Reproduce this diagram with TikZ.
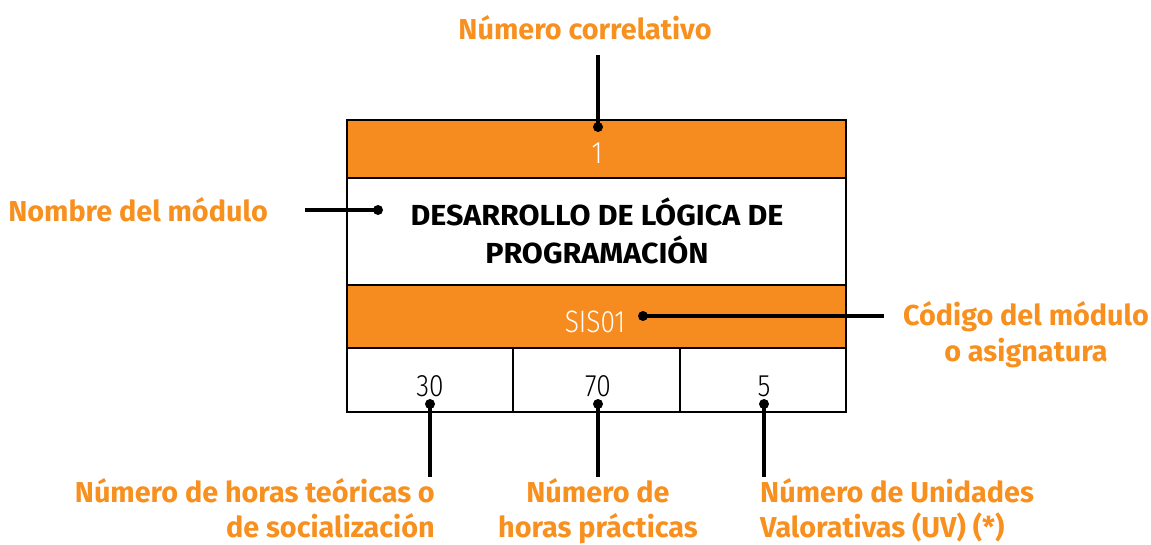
\documentclass[tikz,border=0pt]{standalone}
\usepackage{fontspec}
\setmainfont{Fira Sans}
\newfontfamily\labfont{Fira Sans}
\newfontfamily\titlefont[FakeStretch=1.05]{Fira Sans}
\IfFontExistsTF{Fira Sans Light}{\newfontfamily\numfont[FakeStretch=0.85]{Fira Sans Light}}{\newfontfamily\numfont[FakeStretch=0.85]{Fira Sans}}
\definecolor{orng}{HTML}{F68B1F}
\definecolor{labor}{HTML}{F7901E}
\tikzset{
  cellrow/.style={draw=black, line width=2pt, minimum width=499pt, inner sep=0pt, outer sep=0pt},
  orangerow/.style={cellrow, fill=orng},
  numcell/.style={draw=black, line width=2pt, minimum width=166.33pt, minimum height=64pt, inner sep=0pt, outer sep=0pt},
  conn/.style={line width=4pt, black},
  dotmark/.style={circle, fill=black, inner sep=0pt, minimum size=10pt},
  lab/.style={text=labor, font=\labfont\bfseries\fontsize{28.8}{36}\selectfont, inner sep=0pt},
  labb/.style={text=labor, font=\labfont\bfseries\fontsize{28.8}{35.5}\selectfont, inner sep=0pt},
  numtxt/.style={font=\numfont\fontsize{31}{36}\selectfont, inner sep=0pt},
}
\begin{document}
\begin{tikzpicture}[x=1pt,y=-1pt]
\useasboundingbox (0,0) rectangle (1151,544);
% table
\node[orangerow, minimum height=58pt] (r1) at (596.5,149) {};
\node[cellrow, fill=white, minimum height=107pt] (r2) at (596.5,231.5) {};
\node[orangerow, minimum height=63pt] (r3) at (596.5,316.5) {};
\node[numcell] (c1) at (430.17,380) {};
\node[numcell] (c2) at (596.5,380) {};
\node[numcell] (c3) at (762.83,380) {};
% cell texts
\node[numtxt, text=white] (t1) at (597,153) {1};
\node[font=\titlefont\bfseries\fontsize{29}{38}\selectfont, align=center, inner sep=0pt] (t2) at (597,231) {DESARROLLO DE LÓGICA DE\\PROGRAMACIÓN};
\node[numtxt, text=white] (t3) at (595,322) {SIS01};
\node[numtxt] (t4) at (430,386) {30};
\node[numtxt] (t5) at (598,386) {70};
\node[numtxt] (t6) at (764,386) {5};
% labels
\node[lab] (l1) at (585,28) {Número correlativo};
\node[lab, anchor=east] (l2) at (268,210) {Nombre del módulo};
\node[lab, align=center] (l3) at (1026,335) {Código del módulo\\o asignatura};
\node[labb, align=right, anchor=north east] (l4) at (435,478) {Número de horas teóricas o\\de socialización};
\node[labb, align=center, anchor=north] (l5) at (598,478) {Número de\\horas prácticas};
\node[labb, align=left, anchor=north west] (l6) at (760,478) {Número de Unidades\\Valorativas (UV) (*)};
% connector points
\node[dotmark] (d1) at (598,127) {};
\node[dotmark] (d2) at (378,210) {};
\node[dotmark] (d3) at (643,316) {};
\node[dotmark] (d4) at (430,404) {};
\node[dotmark] (d5) at (598,404) {};
\node[dotmark] (d6) at (764,404) {};
\coordinate (e1) at (598,55);
\coordinate (e2) at (305,210);
\coordinate (e3) at (884,316);
\coordinate (e4) at (430,477);
\coordinate (e5) at (598,477);
\coordinate (e6) at (764,477);
\draw[conn] (e1) -- (d1.center);
\draw[conn] (e2) -- (d2.center);
\draw[conn] (d3.center) -- (e3);
\draw[conn] (d4.center) -- (e4);
\draw[conn] (d5.center) -- (e5);
\draw[conn] (d6.center) -- (e6);
\end{tikzpicture}
\end{document}
